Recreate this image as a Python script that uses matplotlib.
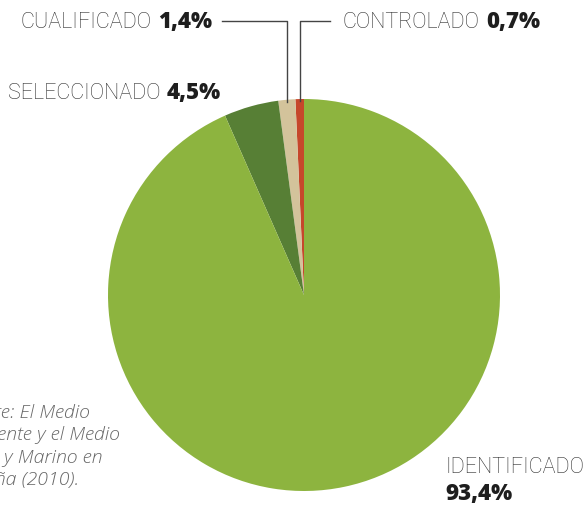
import matplotlib.pyplot as plt
import numpy as np

labels = ["CONTROLADO", "CUALIFICADO", "SELECCIONADO", "IDENTIFICADO"]
values = [0.7, 1.4, 4.5, 93.4]
value_text = ["0,7%", "1,4%", "4,5%", "93,4%"]
colors = ["#c6472b", "#d3c39b", "#577f35", "#8db43f"]
source_lines = ["Fuente: El Medio", "Ambiente y el Medio",
                "Rural y Marino en", "España (2010)."]

W, H = 585, 506
fig = plt.figure(figsize=(W / 100, H / 100), dpi=100)
# pie centre (304, 296) px from top-left, radius 196 px
cx, cy, R = 304, 296, 196
ax = fig.add_axes([(cx - R) / W, (H - cy - R) / H, 2 * R / W, 2 * R / H])
ax.pie(values, colors=colors, startangle=90, counterclock=True,
       wedgeprops=dict(linewidth=0))
ax.set_xlim(-1, 1)
ax.set_ylim(-1, 1)
ax.axis("off")


def px(x, y):
    # figure pixel (from top-left) -> pie data coords
    return (x - cx) / R, (cy - y) / R


light = dict(family="Roboto", fontweight="light", fontsize=15.5, color="#2e2e2e")
bold = dict(family="Open Sans", fontweight="heavy", fontsize=16, color="#1e1e1e")

# leader lines for the two thin slices
cum = np.cumsum([0] + values[:-1])
line_top = px(0, 22)[1]
ends = {0: px(330, 0)[0], 1: px(222, 0)[0]}
for i in (0, 1):
    ang = np.deg2rad(90 + (cum[i] + values[i] / 2) / 100 * 360)
    x0 = np.cos(ang)
    y0 = np.sin(ang) * 0.99
    ax.plot([x0, x0, ends[i]], [y0, line_top, line_top], color="#444444",
            lw=1.0, clip_on=False)

fig.canvas.draw()
r = fig.canvas.get_renderer()


def label_pair(name, val, x, y, align):
    if align == "right":
        tb = ax.text(*px(x, y), val, ha="right", va="center", **bold)
        bb = tb.get_window_extent(r)
        xl = (bb.x0 - 6 - ax.bbox.x0) / R - 1
        ax.text(xl, px(0, y)[1], name, ha="right", va="center", **light)
    else:
        tl = ax.text(*px(x, y), name, ha="left", va="center", **light)
        bb = tl.get_window_extent(r)
        xb = (bb.x1 + 6 - ax.bbox.x0) / R - 1
        ax.text(xb, px(0, y)[1], val, ha="left", va="center", **bold)


label_pair(labels[1], value_text[1], 212, 22, "right")
label_pair(labels[0], value_text[0], 343, 22, "left")
label_pair(labels[2], value_text[2], 8, 93, "left")
ax.text(*px(445, 468), labels[3], ha="left", va="center", **light)
ax.text(*px(445, 494), value_text[3], ha="left", va="center", **bold)

# source note, running off the left edge
for k, line in enumerate(source_lines):
    fig.text(-45 / W, 1 - (413 + 22.5 * k) / H, line, ha="left", va="center",
             family="Open Sans", style="italic", fontweight="light",
             fontsize=14, color="#666666")

fig.savefig("out.png", dpi=100)
